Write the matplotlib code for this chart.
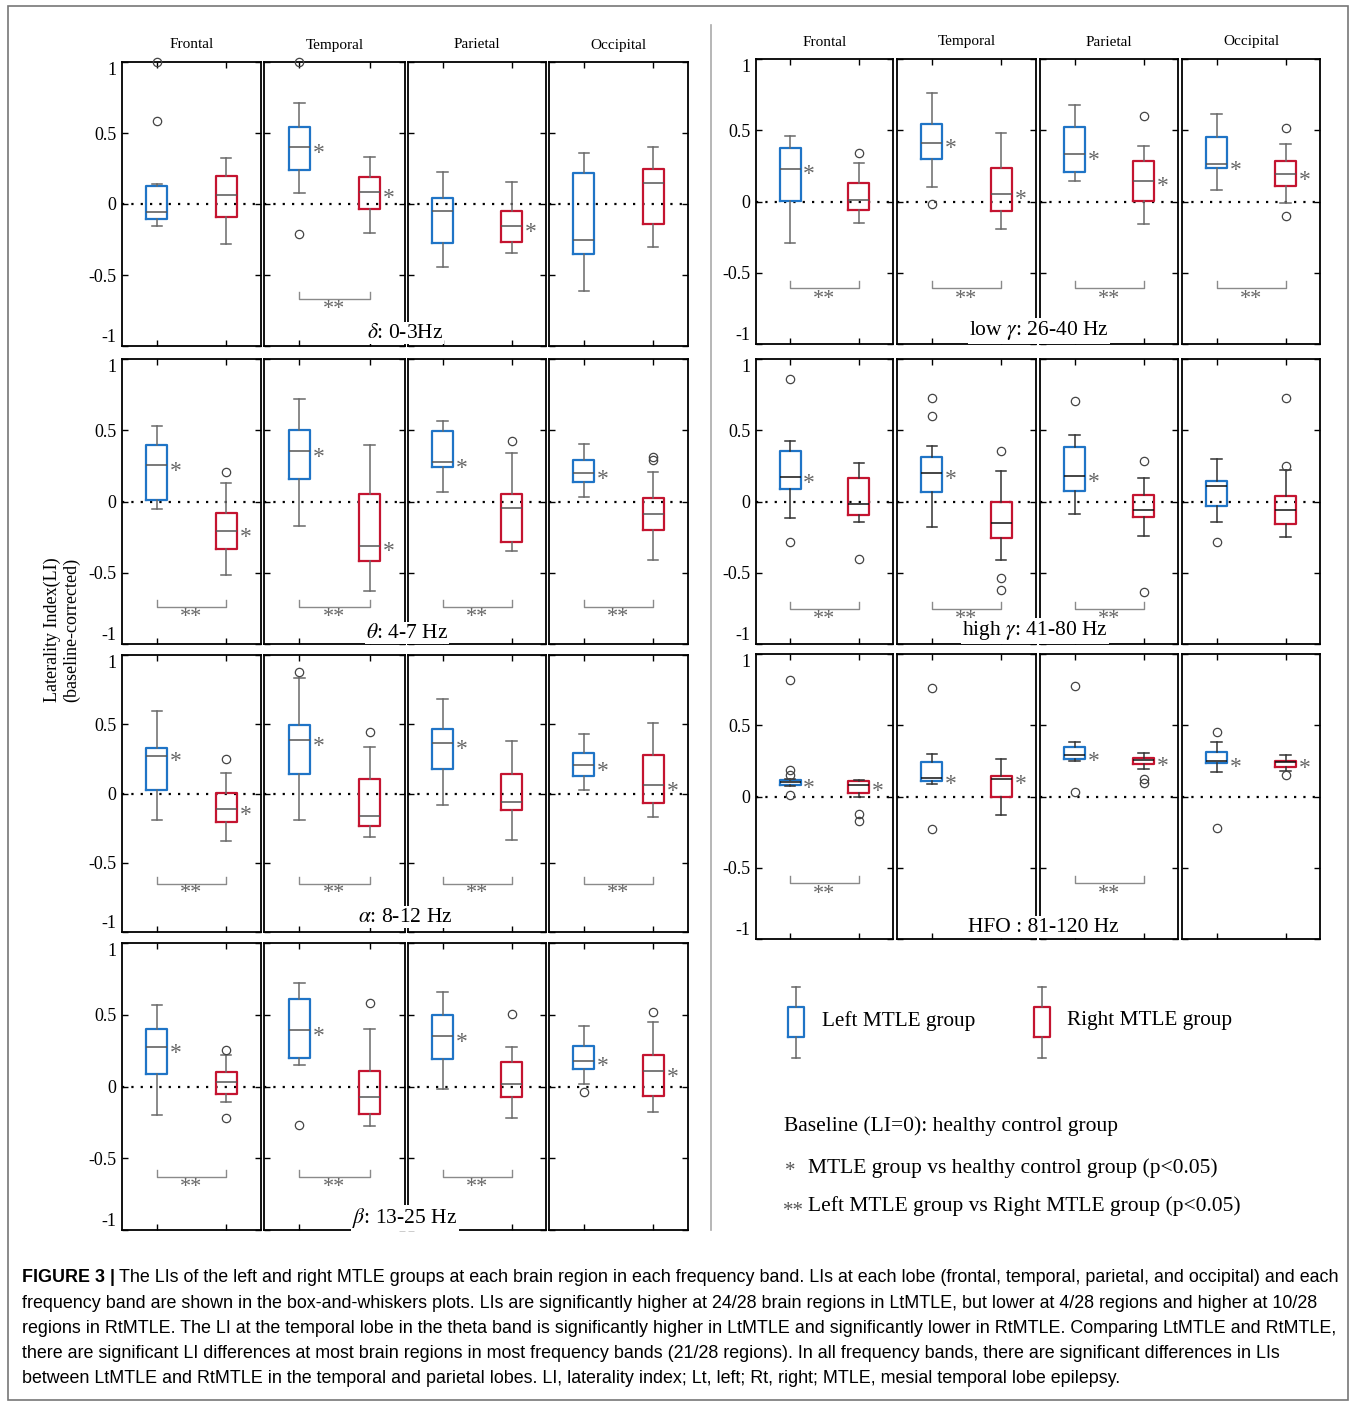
import matplotlib
matplotlib.use('Agg')
import matplotlib.pyplot as plt
from matplotlib.patches import Rectangle
from matplotlib.lines import Line2D

plt.rcParams['font.family'] = ['Liberation Serif', 'DejaVu Serif']
plt.rcParams['mathtext.fontset'] = 'stix'

W, H = 1357, 1401

lobes = ['Frontal', 'Temporal', 'Parietal', 'Occipital']
yticks = [-1, -0.5, 0, 0.5, 1]
ytick_labels = ['-1', '-0.5', '0', '0.5', '1']

# box stats per lobe: [whislo, q1, med, q3, whishi]
delta_lt = [[-0.155, -0.108, -0.059, 0.124, 0.14],
            [0.08, 0.242, 0.40, 0.542, 0.714],
            [-0.441, -0.275, -0.052, 0.042, 0.223],
            [-0.61, -0.354, -0.251, 0.221, 0.362]]
delta_lt_out = [[1.0, 0.587], [1.0, -0.209], [], []]
delta_rt = [[-0.279, -0.094, 0.066, 0.195, 0.326],
            [-0.207, -0.033, 0.082, 0.192, 0.331],
            [-0.345, -0.268, -0.153, -0.052, 0.153],
            [-0.30, -0.138, 0.148, 0.246, 0.399]]
delta_rt_out = [[], [], [], []]
delta_star = [[0, 0], [1, 1], [0, 1], [0, 0]]
delta_pair = [0, 1, 0, 0]

theta_lt = [[-0.056, 0.012, 0.256, 0.395, 0.528],
            [-0.17, 0.158, 0.351, 0.50, 0.719],
            [0.065, 0.242, 0.277, 0.495, 0.565],
            [0.03, 0.135, 0.20, 0.291, 0.405]]
theta_lt_out = [[], [], [], []]
theta_rt = [[-0.519, -0.335, -0.207, -0.081, 0.128],
            [-0.626, -0.421, -0.309, 0.056, 0.40],
            [-0.344, -0.284, -0.044, 0.051, 0.337],
            [-0.414, -0.20, -0.086, 0.028, 0.209]]
theta_rt_out = [[0.207], [], [0.426], [0.312, 0.29]]
theta_star = [[1, 1], [1, 1], [1, 0], [1, 0]]
theta_pair = [1, 1, 1, 1]

alpha_lt = [[-0.191, 0.024, 0.273, 0.331, 0.594],
            [-0.191, 0.138, 0.386, 0.495, 0.836],
            [-0.085, 0.179, 0.362, 0.466, 0.679],
            [0.024, 0.128, 0.205, 0.29, 0.432]]
alpha_lt_out = [[], [0.879], [], []]
alpha_rt = [[-0.343, -0.203, -0.111, 0.002, 0.147],
            [-0.312, -0.232, -0.162, 0.104, 0.333],
            [-0.333, -0.121, -0.06, 0.138, 0.377],
            [-0.171, -0.065, 0.06, 0.278, 0.507]]
alpha_rt_out = [[0.246], [0.442], [], []]
alpha_star = [[1, 1], [1, 0], [1, 0], [1, 1]]
alpha_pair = [1, 1, 1, 1]

beta_lt = [[-0.198, 0.086, 0.272, 0.40, 0.565],
           [0.151, 0.202, 0.393, 0.607, 0.723],
           [-0.016, 0.195, 0.351, 0.50, 0.656],
           [0.016, 0.123, 0.181, 0.284, 0.421]]
beta_lt_out = [[], [-0.267], [], [-0.035]]
beta_rt = [[-0.107, -0.049, 0.03, 0.098, 0.219],
           [-0.274, -0.193, -0.074, 0.107, 0.398],
           [-0.221, -0.07, 0.016, 0.172, 0.272],
           [-0.179, -0.063, 0.107, 0.221, 0.449]]
beta_rt_out = [[0.256, -0.219], [0.581], [0.505], [0.519]]
beta_star = [[1, 0], [1, 0], [1, 0], [1, 1]]
beta_pair = [1, 1, 1, 0]

lowg_lt = [[-0.294, 0.005, 0.231, 0.374, 0.463],
           [0.10, 0.299, 0.414, 0.542, 0.762],
           [0.143, 0.206, 0.336, 0.521, 0.675],
           [0.082, 0.236, 0.266, 0.453, 0.612]]
lowg_lt_out = [[], [-0.021], [], []]
lowg_rt = [[-0.15, -0.063, 0.009, 0.131, 0.269],
           [-0.196, -0.068, 0.056, 0.238, 0.484],
           [-0.161, 0.005, 0.147, 0.283, 0.386],
           [-0.014, 0.112, 0.192, 0.287, 0.402]]
lowg_rt_out = [[0.341], [], [0.603], [0.514, -0.10]]
lowg_star = [[1, 0], [1, 1], [1, 1], [1, 1]]
lowg_pair = [1, 1, 1, 1]

highg_lt = [[-0.119, 0.089, 0.171, 0.357, 0.423],
            [-0.18, 0.065, 0.201, 0.315, 0.386],
            [-0.086, 0.077, 0.18, 0.381, 0.467],
            [-0.143, -0.035, 0.112, 0.145, 0.299]]
highg_lt_out = [[0.862, -0.283], [0.729, 0.60], [0.703], [-0.287]]
highg_rt = [[-0.143, -0.098, -0.019, 0.164, 0.273],
            [-0.414, -0.259, -0.152, -0.007, 0.215],
            [-0.241, -0.11, -0.063, 0.044, 0.166],
            [-0.252, -0.161, -0.061, 0.042, 0.222]]
highg_rt_out = [[-0.40], [0.357, -0.537, -0.621], [0.283, -0.638], [0.729, 0.25]]
highg_star = [[1, 0], [1, 0], [1, 0], [0, 0]]
highg_pair = [1, 1, 1, 0]

hfo_lt = [[0.072, 0.084, 0.10, 0.119, 0.125],
          [0.088, 0.109, 0.13, 0.24, 0.30],
          [0.251, 0.265, 0.293, 0.349, 0.379],
          [0.172, 0.235, 0.247, 0.309, 0.381]]
hfo_lt_out = [[0.819, 0.186, 0.151, 0.014], [0.758, -0.23], [0.774, 0.035], [0.451, -0.221]]
hfo_rt = [[0.0, 0.026, 0.081, 0.107, 0.119],
          [-0.128, -0.005, 0.126, 0.144, 0.26],
          [0.193, 0.23, 0.253, 0.272, 0.305],
          [0.181, 0.207, 0.242, 0.249, 0.288]]
hfo_rt_out = [[-0.121, -0.172], [], [0.123, 0.098], [0.149]]
hfo_star = [[1, 1], [1, 1], [1, 1], [1, 1]]
hfo_pair = [1, 0, 1, 0]

blue = '#1f74c6'
red = '#c41430'

left_cols = [(122, 261), (264, 405), (408, 546), (549, 688)]
right_cols = [(756, 893), (897, 1036), (1040, 1178), (1182, 1320)]

# label, cols, top, bottom, label pos, bracket y, median color, whisker color
bands = [
    (r'$\delta$: 0-3Hz', left_cols, 62, 346, (405, 333), -0.67, '#555555', '#6a6a6a',
     delta_lt, delta_lt_out, delta_rt, delta_rt_out, delta_star, delta_pair),
    (r'$\theta$: 4-7 Hz', left_cols, 359, 644, (407, 633), -0.74, '#555555', '#6a6a6a',
     theta_lt, theta_lt_out, theta_rt, theta_rt_out, theta_star, theta_pair),
    (r'$\alpha$: 8-12 Hz', left_cols, 655, 932, (405, 917), -0.65, '#555555', '#6a6a6a',
     alpha_lt, alpha_lt_out, alpha_rt, alpha_rt_out, alpha_star, alpha_pair),
    (r'$\beta$: 13-25 Hz', left_cols, 943, 1230, (405, 1218), -0.63, '#555555', '#6a6a6a',
     beta_lt, beta_lt_out, beta_rt, beta_rt_out, beta_star, beta_pair),
    (r'low $\gamma$: 26-40 Hz', right_cols, 59, 344, (1039, 331), -0.61, '#555555', '#6a6a6a',
     lowg_lt, lowg_lt_out, lowg_rt, lowg_rt_out, lowg_star, lowg_pair),
    (r'high $\gamma$: 41-80 Hz', right_cols, 359, 644, (1035, 631), -0.755, '#111111', '#333333',
     highg_lt, highg_lt_out, highg_rt, highg_rt_out, highg_star, highg_pair),
    ('HFO : 81-120 Hz', right_cols, 654, 939, (1043, 927), -0.61, '#111111', '#333333',
     hfo_lt, hfo_lt_out, hfo_rt, hfo_rt_out, hfo_star, hfo_pair),
]

fig = plt.figure(figsize=(W / 100, H / 100), dpi=100)


def fx(x):
    return x / W


def fy(y):
    return 1 - y / H


def make_stats(row, out):
    return dict(whislo=row[0], q1=row[1], med=row[2], q3=row[3], whishi=row[4], fliers=out)


for (label, cols, top, bot, lpos, by, medc, whc,
     lt, lt_out, rt, rt_out, star, pair) in bands:
    for i, (x0, x1) in enumerate(cols):
        ax = fig.add_axes([fx(x0), fy(bot), (x1 - x0) / W, (bot - top) / H])
        ax.set_xlim(0.5, 2.5)
        ax.set_ylim(-1, 1)
        ax.axhline(0, color='black', lw=1.6, ls=(0, (1, 3.2)), zorder=1)
        for pos, row, out, col in [(1, lt[i], lt_out[i], blue), (2, rt[i], rt_out[i], red)]:
            arts = ax.bxp([make_stats(row, out)], positions=[pos], widths=0.3,
                          boxprops=dict(color=col, lw=1.6),
                          whiskerprops=dict(color=whc, lw=1.1),
                          capprops=dict(color=whc, lw=1.1),
                          medianprops=dict(color=medc, lw=1.1),
                          flierprops=dict(marker='o', mfc='none', mec='#444444', ms=6, mew=0.9),
                          manage_ticks=False, zorder=3)
            for fl in arts['fliers']:
                fl.set_clip_on(False)
        for k, pos in enumerate([1, 2]):
            if star[i][k]:
                med = (lt[i] if k == 0 else rt[i])[2]
                ax.text(pos + 0.19, med - 0.045, '*', color='#666666', fontsize=17,
                        ha='left', va='center')
        if pair[i]:
            ax.plot([1, 1, 2, 2], [by + 0.05, by, by, by + 0.05], color='#8a8a8a', lw=1)
            ax.text(1.5, by - 0.075, '**', color='#666666', fontsize=16,
                    ha='center', va='center')
        ax.set_xticks([1, 2])
        ax.set_xticklabels([])
        ax.set_yticks(yticks)
        ax.set_yticklabels(ytick_labels if i == 0 else [])
        if i == 0:
            tl = ax.get_yticklabels()
            tl[0].set_va('bottom')
            tl[-1].set_va('top')
        ax.tick_params(direction='in', top=True, right=True, length=4, width=1,
                       labelsize=13, pad=4)
        for s in ax.spines.values():
            s.set_linewidth(1.3)
        if top < 100:
            fig.text(fx((x0 + x1) / 2), fy(top - 17), lobes[i], fontsize=11,
                     ha='center', va='center')
    fig.text(fx(lpos[0]), fy(lpos[1]), label, fontsize=15.5, ha='center', va='center',
             bbox=dict(boxstyle='square,pad=0.05', fc='white', ec='none'), zorder=10)

fig.text(fx(62), fy(630), 'Laterality Index(LI)\n(baseline-corrected)', rotation=90,
         fontsize=13, ha='center', va='center', linespacing=1.1)

# divider and outer frame
fig.add_artist(Line2D([fx(711), fx(711)], [fy(25), fy(1230)], color='#aaaaaa', lw=1.2))
fig.add_artist(Rectangle((fx(8), fy(1400)), (1348 - 8) / W, (1400 - 6) / H,
                         fill=False, ec='#777777', lw=1.2))

# legend glyphs
lax = fig.add_axes([fx(760), fy(1070), (1100 - 760) / W, (1070 - 975) / H])
lax.set_xlim(760, 1100)
lax.set_ylim(1070, 975)
lax.axis('off')
for pos, col in [(796, blue), (1042, red)]:
    lax.bxp([dict(whislo=1058, q1=1037, med=1037, q3=1007, whishi=987, fliers=[])],
            positions=[pos], widths=16,
            boxprops=dict(color=col, lw=1.6),
            whiskerprops=dict(color='#666666', lw=1.1),
            capprops=dict(color='#666666', lw=1.1),
            medianprops=dict(color=col, lw=0),
            manage_ticks=False)
fig.text(fx(822), fy(1021), 'Left MTLE group', fontsize=15.3, va='center')
fig.text(fx(1067), fy(1021), 'Right MTLE group', fontsize=15.3, va='center')
fig.text(fx(784), fy(1126), 'Baseline (LI=0): healthy control group', fontsize=15.5, va='center')
fig.text(fx(785), fy(1172), '*', fontsize=15, va='center', color='#555555')
fig.text(fx(808), fy(1168), 'MTLE group vs healthy control group (p<0.05)', fontsize=15.5, va='center')
fig.text(fx(783), fy(1211), '**', fontsize=15, va='center', color='#555555')
fig.text(fx(808), fy(1206), 'Left MTLE group vs Right MTLE group (p<0.05)', fontsize=15.5, va='center')

# caption
caption = [
    'The LIs of the left and right MTLE groups at each brain region in each frequency band. '
    'LIs at each lobe (frontal, temporal, parietal, and occipital) and each',
    'frequency band are shown in the box-and-whiskers plots. LIs are significantly higher at '
    '24/28 brain regions in LtMTLE, but lower at 4/28 regions and higher at 10/28',
    'regions in RtMTLE. The LI at the temporal lobe in the theta band is significantly higher '
    'in LtMTLE and significantly lower in RtMTLE. Comparing LtMTLE and RtMTLE,',
    'there are significant LI differences at most brain regions in most frequency bands '
    '(21/28 regions). In all frequency bands, there are significant differences in LIs',
    'between LtMTLE and RtMTLE in the temporal and parietal lobes. LI, laterality index; '
    'Lt, left; Rt, right; MTLE, mesial temporal lobe epilepsy.',
]
cap_font = ['Liberation Sans Narrow', 'Liberation Sans', 'DejaVu Sans']
cap_size = 12.9
bold = fig.text(fx(22), fy(1278), 'FIGURE 3 |', family=cap_font, fontsize=cap_size,
                fontweight='bold', va='center')
r = fig.canvas.get_renderer()
bx = bold.get_window_extent(r).x1
fig.text(bx / W + 4 / W, fy(1278), caption[0], family=cap_font, fontsize=cap_size, va='center')
for j, line in enumerate(caption[1:]):
    fig.text(fx(22), fy(1303 + 25.3 * j), line, family=cap_font, fontsize=cap_size, va='center')

fig.savefig('out.png', dpi=100)
